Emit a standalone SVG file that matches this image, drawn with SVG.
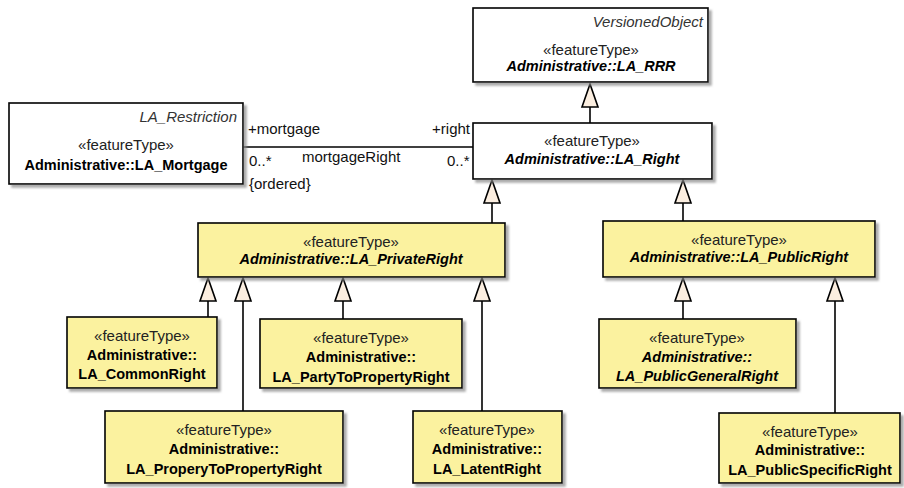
<svg xmlns="http://www.w3.org/2000/svg" width="904" height="488" viewBox="0 0 904 488">
<style>
.box{stroke:#000;stroke-width:1.6;filter:url(#sh)}
.w{fill:#fff}
.y{fill:#fbf29f}
text{font-family:"Liberation Sans",Arial,sans-serif;font-size:15px;fill:#000}
.st{text-anchor:middle;fill:#222}
.nm{text-anchor:middle;font-weight:bold;font-size:14.5px}
.ab{font-style:italic}
.tag{font-style:italic;fill:#333;text-anchor:end}
.lbl{fill:#111}
.ln{stroke:#000;stroke-width:1.6;fill:none}
.tri{fill:#fbeee0;stroke:#000;stroke-width:1.6;stroke-linejoin:miter}
</style>
<defs>
<filter id="sh" x="-10%" y="-10%" width="130%" height="140%">
<feDropShadow dx="3" dy="3" stdDeviation="1.2" flood-color="#888" flood-opacity="0.7"/>
</filter>
</defs>
<rect width="904" height="488" fill="#fff"/>

<g id="connectors">
<line class="ln" x1="243" y1="147" x2="473" y2="147"/>
<text class="lbl" x="248" y="134">+mortgage</text>
<text class="lbl" x="470" y="134" text-anchor="end">+right</text>
<text class="lbl" x="249" y="166">0..*</text>
<text class="lbl" x="302" y="162">mortgageRight</text>
<text class="lbl" x="249" y="189">{ordered}</text>
<text class="lbl" x="447" y="166">0..*</text>

<line class="ln" x1="590" y1="123" x2="590" y2="107"/>
<polygon class="tri" points="590,84 582,107 598,107"/>

<line class="ln" x1="492" y1="223" x2="492" y2="203"/>
<polygon class="tri" points="492,180 484,203 500,203"/>
<line class="ln" x1="683" y1="221" x2="683" y2="203"/>
<polygon class="tri" points="683,180 675,203 691,203"/>

<line class="ln" x1="208" y1="317" x2="208" y2="301"/>
<polygon class="tri" points="208,278 200,301 216,301"/>
<line class="ln" x1="243" y1="411" x2="243" y2="301"/>
<polygon class="tri" points="243,278 235,301 251,301"/>
<line class="ln" x1="343" y1="319" x2="343" y2="301"/>
<polygon class="tri" points="343,278 335,301 351,301"/>
<line class="ln" x1="482" y1="411" x2="482" y2="301"/>
<polygon class="tri" points="482,278 474,301 490,301"/>

<line class="ln" x1="683" y1="319" x2="683" y2="301"/>
<polygon class="tri" points="683,278 675,301 691,301"/>
<line class="ln" x1="835" y1="413" x2="835" y2="301"/>
<polygon class="tri" points="835,278 827,301 843,301"/>
</g>

<g id="LA_RRR">
<rect class="box w" x="473" y="8" width="235" height="74"/>
<text class="tag" x="703" y="27">VersionedObject</text>
<text class="st" x="591" y="55">«featureType»</text>
<text class="nm ab" x="591" y="71">Administrative::LA_RRR</text>
</g>

<g id="LA_Mortgage">
<rect class="box w" x="9" y="103" width="234" height="81"/>
<text class="tag" x="237" y="122">LA_Restriction</text>
<text class="st" x="126" y="150">«featureType»</text>
<text class="nm" x="126" y="170">Administrative::LA_Mortgage</text>
</g>

<g id="LA_Right">
<rect class="box w" x="473" y="123" width="239" height="56"/>
<text class="st" x="592" y="146">«featureType»</text>
<text class="nm ab" x="592" y="164">Administrative::LA_Right</text>
</g>

<g id="LA_PrivateRight">
<rect class="box y" x="198" y="223" width="307" height="54"/>
<text class="st" x="351" y="247">«featureType»</text>
<text class="nm ab" x="351" y="264">Administrative::LA_PrivateRight</text>
</g>

<g id="LA_PublicRight">
<rect class="box y" x="603" y="221" width="272" height="56"/>
<text class="st" x="739" y="245">«featureType»</text>
<text class="nm ab" x="739" y="262">Administrative::LA_PublicRight</text>
</g>

<g id="LA_CommonRight">
<rect class="box y" x="67" y="317" width="150" height="71"/>
<text class="st" x="142" y="341">«featureType»</text>
<text class="nm" x="142" y="360">Administrative::</text>
<text class="nm" x="142" y="379">LA_CommonRight</text>
</g>

<g id="LA_PartyToPropertyRight">
<rect class="box y" x="260" y="319" width="202" height="69"/>
<text class="st" x="361" y="343">«featureType»</text>
<text class="nm" x="361" y="362">Administrative::</text>
<text class="nm" x="361" y="382">LA_PartyToPropertyRight</text>
</g>

<g id="LA_PublicGeneralRight">
<rect class="box y" x="599" y="319" width="197" height="69"/>
<text class="st" x="697" y="343">«featureType»</text>
<text class="nm ab" x="697" y="362">Administrative::</text>
<text class="nm ab" x="697" y="381">LA_PublicGeneralRight</text>
</g>

<g id="LA_ProperyToPropertyRight">
<rect class="box y" x="105" y="411" width="238" height="72"/>
<text class="st" x="224" y="435">«featureType»</text>
<text class="nm" x="224" y="454">Administrative::</text>
<text class="nm" x="224" y="474">LA_ProperyToPropertyRight</text>
</g>

<g id="LA_LatentRight">
<rect class="box y" x="413" y="411" width="149" height="72"/>
<text class="st" x="487" y="435">«featureType»</text>
<text class="nm" x="487" y="454">Administrative::</text>
<text class="nm" x="487" y="474">LA_LatentRight</text>
</g>

<g id="LA_PublicSpecificRight">
<rect class="box y" x="719" y="413" width="181" height="70"/>
<text class="st" x="810" y="437">«featureType»</text>
<text class="nm" x="810" y="455">Administrative::</text>
<text class="nm" x="810" y="475">LA_PublicSpecificRight</text>
</g>
</svg>
